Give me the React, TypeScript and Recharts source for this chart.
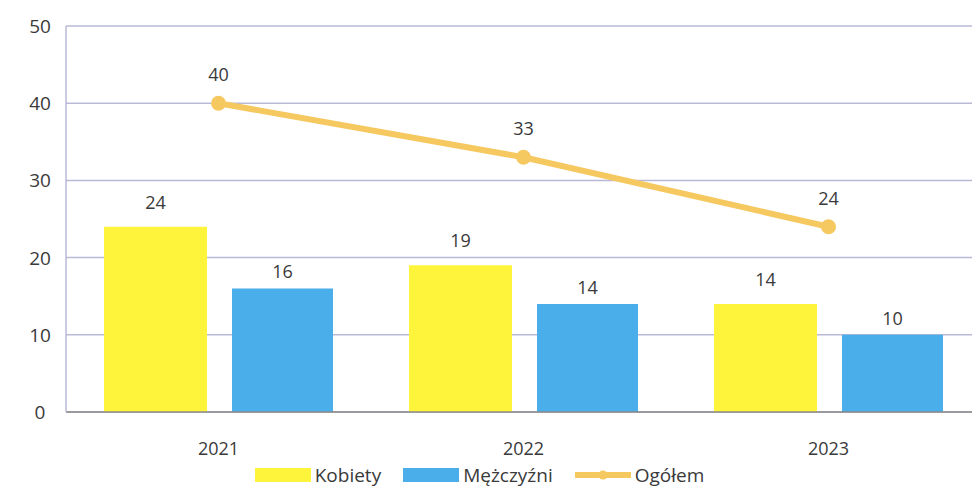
import { ComposedChart, Bar, Line, XAxis, YAxis, CartesianGrid, Legend, LabelList } from 'recharts';

const years = ['2021', '2022', '2023'];
const kobiety = [24, 19, 14];
const mezczyzni = [16, 14, 10];
const ogolem = [40, 33, 24];
const yTicks = [0, 10, 20, 30, 40, 50];

const data = years.map((year, i) => ({
  year,
  kobiety: kobiety[i],
  mezczyzni: mezczyzni[i],
  ogolem: ogolem[i],
}));

const FONT = '"Open Sans", "Noto Sans", sans-serif';
const TEXT = '#3a3a3a';
const YELLOW = '#fff43c';
const BLUE = '#4aaeea';
const ORANGE = '#f6c860';
const GRID = '#b9b9d6';

const YTick = (props: any) => {
  const { y, payload } = props;
  return (
    <text x={40} y={y} dy={7} textAnchor="middle" fontSize={19} fill={TEXT} fontFamily={FONT}>
      {payload.value}
    </text>
  );
};

const legendItems = [
  { label: 'Kobiety', kind: 'bar', color: YELLOW },
  { label: 'Mężczyźni', kind: 'bar', color: BLUE },
  { label: 'Ogółem', kind: 'line', color: ORANGE },
];

const LegendContent = () => (
  <div style={{ display: 'flex', justifyContent: 'center', alignItems: 'center', height: 26, fontFamily: FONT, fontSize: 19, color: TEXT }}>
    {legendItems.map((it) => (
      <div key={it.label} style={{ display: 'flex', alignItems: 'center', marginRight: 22 }}>
        <svg width={56} height={16} style={{ marginRight: 4 }}>
          {it.kind === 'bar' ? (
            <rect x={0} y={1} width={56} height={14} fill={it.color} />
          ) : (
            <>
              <line x1={0} y1={8} x2={56} y2={8} stroke={it.color} strokeWidth={6} />
              <circle cx={28} cy={8} r={4.5} fill={it.color} />
            </>
          )}
        </svg>
        <span>{it.label}</span>
      </div>
    ))}
  </div>
);

export default function App() {
  return (
    <div style={{ position: 'absolute', left: 0, top: 0, width: 972, height: 488, overflow: 'hidden', background: '#fff' }}>
      <ComposedChart
        width={981}
        height={488}
        data={data}
        margin={{ top: 26, right: 0, bottom: 0, left: 0 }}
        barGap={25}
      >
        <CartesianGrid horizontal vertical={false} stroke={GRID} strokeWidth={1.5} />
        <XAxis
          dataKey="year"
          height={50}
          tickLine={false}
          tickMargin={24}
          axisLine={{ stroke: '#8a8a8a', strokeWidth: 1.5 }}
          tick={{ fontSize: 18, fill: TEXT, fontFamily: FONT }}
        />
        <YAxis
          width={66}
          domain={[0, 50]}
          ticks={yTicks}
          tickLine={false}
          axisLine={{ stroke: GRID, strokeWidth: 1.5 }}
          tick={<YTick />}
        />
        <Legend verticalAlign="bottom" height={26} content={<LegendContent />} />
        <Bar dataKey="kobiety" name="Kobiety" fill={YELLOW} barSize={103} isAnimationActive={false}>
          <LabelList dataKey="kobiety" position="top" offset={18} fontSize={18} fill={TEXT} fontFamily={FONT} />
        </Bar>
        <Bar dataKey="mezczyzni" name="Mężczyźni" fill={BLUE} barSize={101} isAnimationActive={false}>
          <LabelList dataKey="mezczyzni" position="top" offset={10} fontSize={18} fill={TEXT} fontFamily={FONT} />
        </Bar>
        <Line
          dataKey="ogolem"
          name="Ogółem"
          stroke={ORANGE}
          strokeWidth={6}
          dot={{ r: 4.5, fill: ORANGE, stroke: ORANGE }}
          isAnimationActive={false}
        >
          <LabelList dataKey="ogolem" position="top" offset={22} fontSize={18} fill={TEXT} fontFamily={FONT} />
        </Line>
      </ComposedChart>
    </div>
  );
}
